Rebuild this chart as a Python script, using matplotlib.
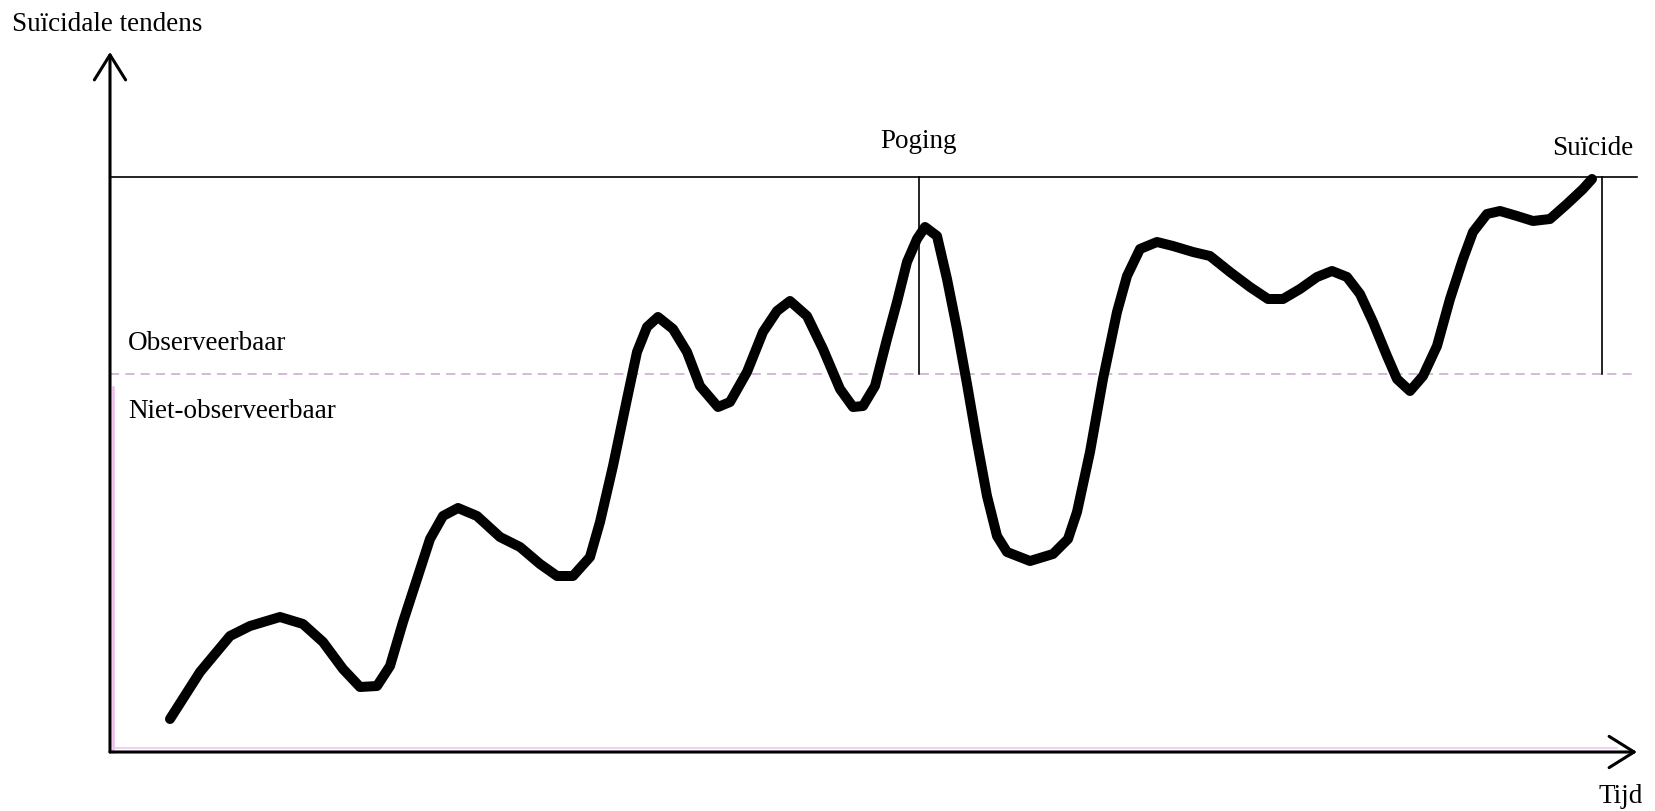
import matplotlib
matplotlib.use('Agg')
import matplotlib.pyplot as plt

tijd = [60, 90, 120, 140, 170, 193, 213, 233, 250, 267, 280, 293, 307, 320, 333,
        348, 367, 390, 410, 430, 447, 463, 480, 490, 503, 517, 527, 537, 548, 563,
        577, 590, 608, 620, 637, 653, 667, 680, 697, 713, 730, 743, 753, 765, 777,
        787, 797, 807, 815, 827, 837, 847, 857, 867, 877, 887, 897, 920, 943, 958,
        967, 980, 993, 1007, 1017, 1030, 1047, 1063, 1083, 1100, 1120, 1140, 1158,
        1173, 1190, 1207, 1222, 1237, 1250, 1263, 1277, 1287, 1300, 1313, 1327,
        1340, 1353, 1363, 1377, 1390, 1407, 1423, 1440, 1457, 1473, 1482]
tendens = [33, 80, 116, 126, 135, 128, 110, 83, 65, 66, 86, 130, 173, 213, 236,
           244, 236, 215, 205, 188, 176, 176, 195, 230, 286, 353, 400, 425, 435, 423,
           400, 366, 345, 350, 380, 420, 441, 451, 436, 403, 363, 345, 346, 366, 413,
           450, 490, 513, 525, 516, 473, 423, 368, 310, 256, 216, 200, 191, 198, 213,
           240, 300, 373, 440, 476, 503, 510, 506, 500, 496, 480, 465, 453,
           453, 463, 475, 481, 475, 458, 430, 396, 373, 361, 376, 406,
           453, 493, 520, 538, 541, 536, 531, 533, 548, 563, 573]

grens_suicide = 575      # bovenste lijn
grens_observeerbaar = 378
poging_t = 809
suicide_t = 1492
x_einde = 1527
y_einde = 700

fig = plt.figure(figsize=(16.56, 8.12), dpi=100)
ax = fig.add_axes([0, 0, 1, 1])
ax.set_xlim(-110, 1546)
ax.set_ylim(-59, 753)
ax.axis('off')

font = dict(family='Liberation Serif', fontsize=19.5, color='black')

# assen met pijlen
pijl = dict(arrowstyle='->, head_length=0.4, head_width=0.25', lw=2.2,
            color='black', shrinkA=0, shrinkB=0, mutation_scale=45)
ax.annotate('', xy=(x_einde, 0), xytext=(0, 0), arrowprops=pijl)
ax.annotate('', xy=(0, y_einde), xytext=(0, 0), arrowprops=pijl)
ax.plot([3, 3], [0, 365], color='#ecbcec', lw=1.8)
ax.plot([3, x_einde - 20], [4, 4], color='#f0c8f0', lw=1.2)

# drempels
ax.plot([0, x_einde], [grens_suicide, grens_suicide], color='black', lw=1.2)
ax.plot([0, x_einde], [grens_observeerbaar, grens_observeerbaar],
        color='#c9a6cf', lw=1.1, linestyle=(0, (6, 4)))
ax.plot([poging_t, poging_t], [grens_observeerbaar, grens_suicide], color='black', lw=1.2)
ax.plot([suicide_t, suicide_t], [grens_observeerbaar, grens_suicide], color='black', lw=1.2)

# verloop
ax.plot(tijd, tendens, color='black', lw=7.2, solid_capstyle='round',
        solid_joinstyle='round')

# teksten
ax.text(-98, 722, 'Suïcidale tendens', ha='left', va='baseline', **font)
ax.text(poging_t - 39, 605, 'Poging', ha='left', va='baseline', **font)
ax.text(suicide_t + 31, 598, 'Suïcide', ha='right', va='baseline', **font)
ax.text(18, 403, 'Observeerbaar', ha='left', va='baseline', **font)
ax.text(18, 335, 'Niet-observeerbaar', ha='left', va='baseline', **font)
ax.text(x_einde + 6, -50, 'Tijd', ha='right', va='baseline', **font)

fig.savefig('out.png', dpi=100, facecolor='white')
